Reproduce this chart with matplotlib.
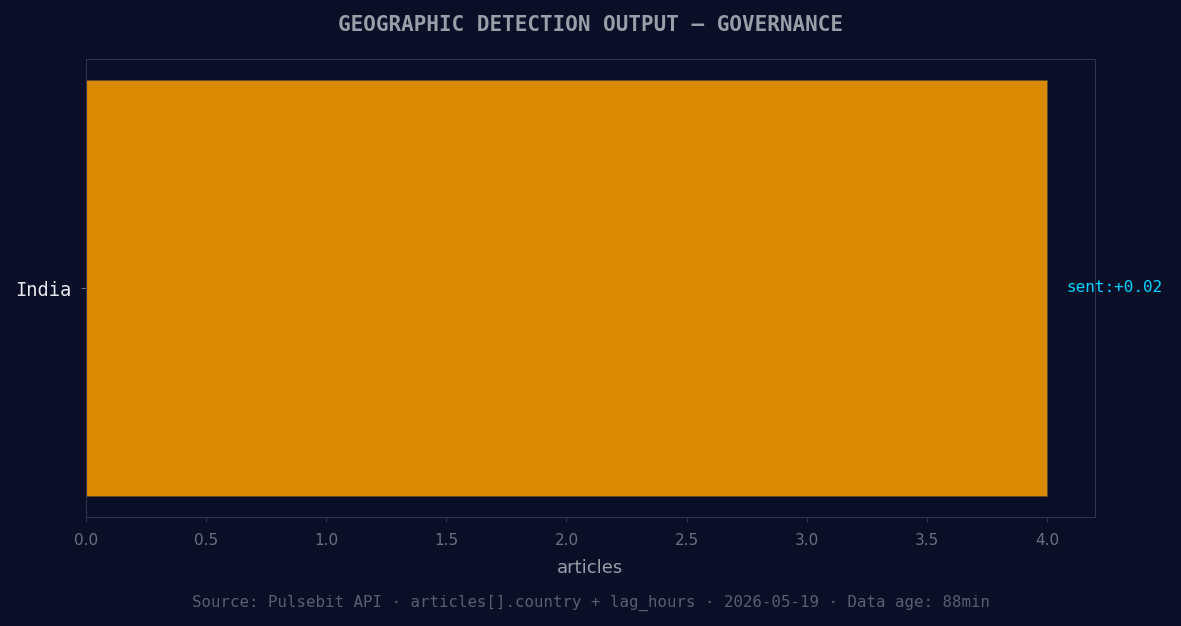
import matplotlib
matplotlib.use("Agg")
import matplotlib.pyplot as plt

countries = ["India"]
articles = [4]
sentiments = ["+0.02"]

bg = "#0a0e27"
fig = plt.figure(figsize=(11.81, 6.26), dpi=100, facecolor=bg)
ax = fig.add_axes([86/1181, 1-517/626, (1095-86)/1181, (517-59)/626], facecolor=bg)
ax.barh(countries, articles, height=0.8, color="#db8b03", edgecolor="#5a4a2a", linewidth=0.5)
ax.set_xlim(0, 4.2)
for s in ax.spines.values():
    s.set_color("#2e3350")
ax.tick_params(axis="x", colors="#2e3350", labelcolor="#6b7080", labelsize=11, pad=8)
ax.tick_params(axis="y", colors="#6b7080", labelcolor="#e8e8f0", labelsize=13.5, pad=7)
for t in ax.get_yticklabels():
    t.set_family("DejaVu Sans Mono")
for i, (v, s) in enumerate(zip(articles, sentiments)):
    ax.text(4.08, i, f"sent:{s}", color="#00d4ff", family="DejaVu Sans Mono",
            fontsize=11.5, va="center", ha="left")
ax.set_xlabel("articles", color="#9a9ea8", fontsize=13, labelpad=8)
fig.text(0.5, 1-25/626, "GEOGRAPHIC DETECTION OUTPUT — GOVERNANCE", ha="center", va="center",
         color="#9a9ea8", family="DejaVu Sans Mono", fontweight="bold", fontsize=15)
fig.text(0.5, 1-603/626, "Source: Pulsebit API · articles[].country + lag_hours · 2026-05-19 · Data age: 88min",
         ha="center", va="center", color="#5a5f70", family="DejaVu Sans Mono", fontsize=11.3)
fig.savefig("out.png", dpi=100, facecolor=bg)
